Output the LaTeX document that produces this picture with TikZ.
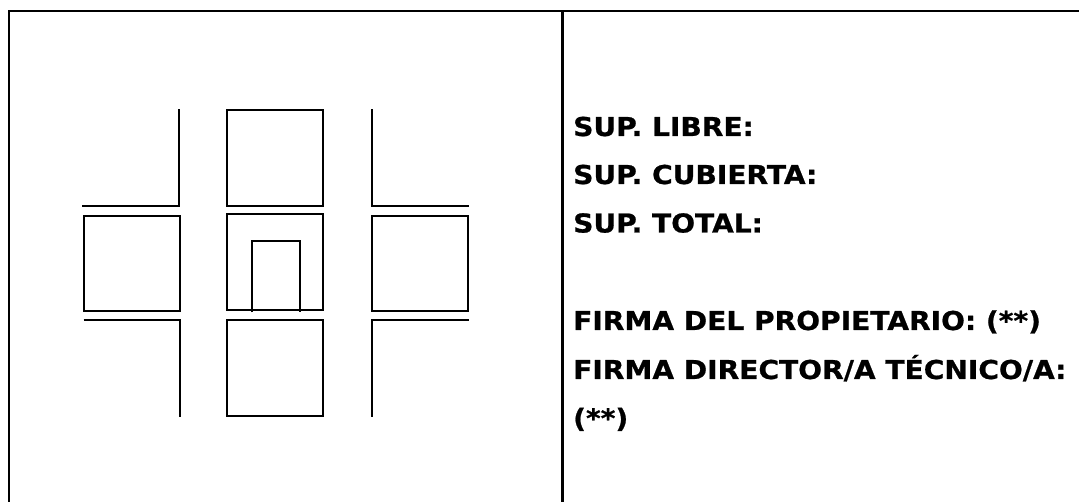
\documentclass[tikz,border=0pt]{standalone}
\usepackage{fontspec}
\setmainfont{DejaVu Sans}[FakeStretch=1.08,BoldFeatures={FakeBold=0.8}]
\tikzset{
  px/.style={x=1pt,y=-1pt},
  frameline/.style={line width=2.8pt,black},
  plan/.style={line width=2pt,black,line join=miter},
  thin plan/.style={line width=1.8pt,black},
  label/.style={anchor=base west,inner sep=0pt,font=\fontsize{26}{30}\selectfont\bfseries}
}
\begin{document}
\begin{tikzpicture}[px]
\useasboundingbox (0,0) rectangle (1079,502);
\fill[white] (0,0) rectangle (1079,502);
% frame
\draw[frameline] (9,502) -- (9,11) -- (1079,11);
\draw[frameline] (562.5,11) -- (562.5,502);
% street plan
\draw[plan] (179,109.5) -- (179,205.7) -- (82.3,205.7);
\draw[plan] (226.7,109.7) rectangle (323,205.7);
\draw[plan] (372,109.5) -- (372,205.7) -- (468.7,205.7);
\draw[plan] (84,215.7) rectangle (180,311.3);
\draw[plan] (226.7,214.3) rectangle (323,310.3);
\draw[plan] (372,215.7) rectangle (468.3,311.3);
\draw[thin plan] (252,312.3) -- (252,240.7) -- (300,240.7) -- (300,312.3);
\draw[plan] (83.7,320) -- (180.3,320) -- (180.3,416.8);
\draw[plan] (226.7,320) rectangle (323,416.3);
\draw[plan] (468.7,320) -- (372,320) -- (372,417);
% labels
\node[label] (a) at (573,136) {SUP. LIBRE:};
\node[label] (b) at (573,184) {SUP. CUBIERTA:};
\node[label] (c) at (573,232.5) {SUP. TOTAL:};
\node[label] (d) at (573,330) {FIRMA DEL PROPIETARIO: (**)};
\node[label] (e) at (573,379) {FIRMA DIRECTOR/A TÉCNICO/A:};
\node[label] (f) at (573,427.5) {(**)};
\end{tikzpicture}
\end{document}
